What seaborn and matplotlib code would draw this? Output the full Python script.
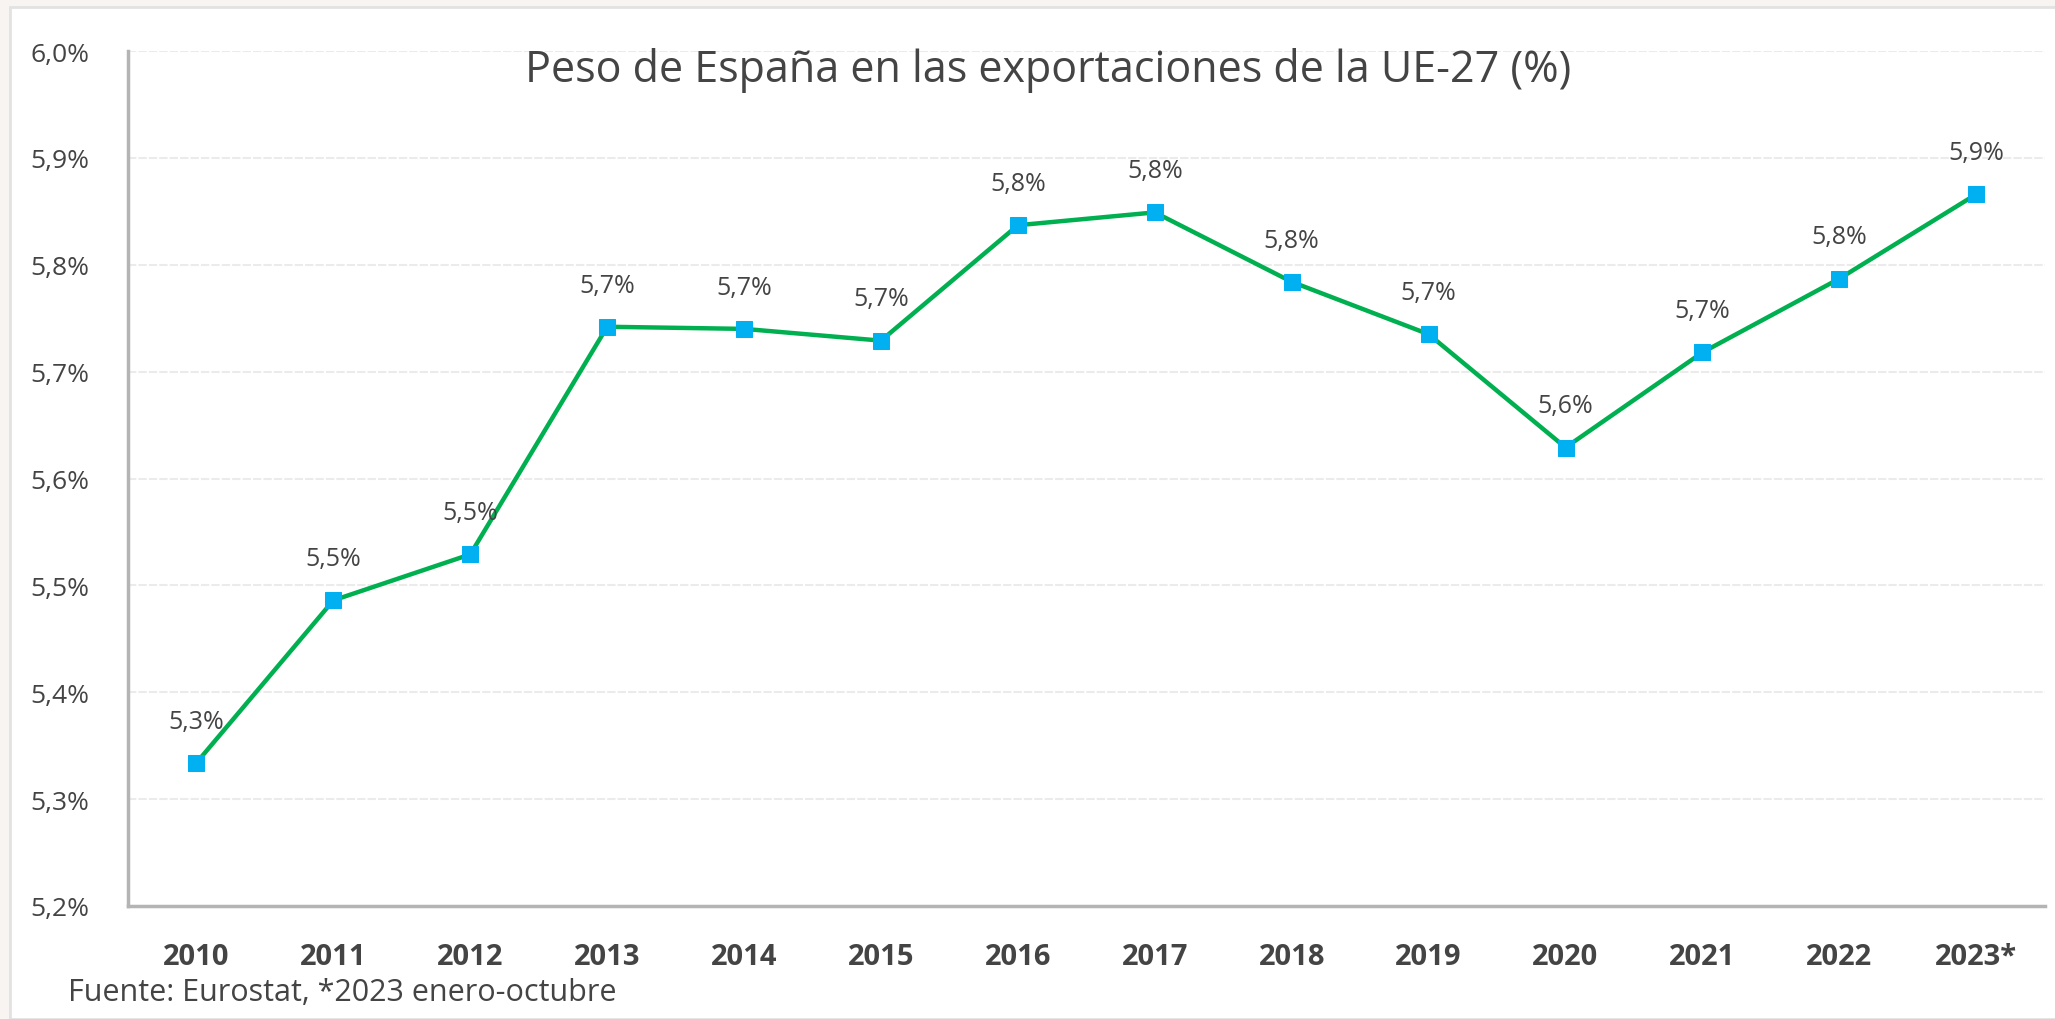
import numpy as np
import pandas as pd
import seaborn as sns
import matplotlib.pyplot as plt
from matplotlib.patches import Rectangle
from matplotlib.ticker import FixedLocator, FuncFormatter

years = ['2010', '2011', '2012', '2013', '2014', '2015', '2016',
         '2017', '2018', '2019', '2020', '2021', '2022', '2023*']
peso = [5.334, 5.486, 5.529, 5.742, 5.740, 5.729, 5.837,
        5.849, 5.784, 5.735, 5.629, 5.718, 5.787, 5.866]
etiquetas = ['5,3%', '5,5%', '5,5%', '5,7%', '5,7%', '5,7%', '5,8%',
             '5,8%', '5,8%', '5,7%', '5,6%', '5,7%', '5,8%', '5,9%']
y_ticks = [5.2, 5.3, 5.4, 5.5, 5.6, 5.7, 5.8, 5.9, 6.0]

df = pd.DataFrame({'Año': years, 'Peso': peso})

sns.set_style('white')
plt.rcParams['font.family'] = ['Open Sans', 'DejaVu Sans']
text_col = '#444444'
axis_col = '#b4b4b4'

fig = plt.figure(figsize=(20.55, 10.2), dpi=100)
fig.patch.set_facecolor('#f7f4f2')
# white panel behind the chart
fig.patches.append(Rectangle((10 / 2055, 0), 1, 1 - 8 / 1020, transform=fig.transFigure,
                             facecolor='white', edgecolor='#e2e2e2', linewidth=2, zorder=-10))
ax = fig.add_axes([0.0623, 0.1108, 0.9327, 0.8382])
ax.set_zorder(1)
ax.set_facecolor('white')

sns.lineplot(data=df, x='Año', y='Peso', sort=False, ax=ax, color='#00b050',
             linewidth=3.2, marker='s', markersize=11.5, markerfacecolor='#00b0f0',
             markeredgecolor='#00b0f0', zorder=3)

for i, (v, lab) in enumerate(zip(peso, etiquetas)):
    ax.annotate(lab, (i, v), xytext=(0, 30), textcoords='offset points',
                ha='center', va='center', fontsize=18, color=text_col)

ax.set_xlim(-0.5, len(years) - 0.5)
ax.set_ylim(5.2, 6.0)
ax.yaxis.set_major_locator(FixedLocator(y_ticks))
ax.yaxis.set_major_formatter(FuncFormatter(lambda v, p: f'{v:.1f}%'.replace('.', ',')))
ax.grid(axis='y', color='#ebebeb', linewidth=1.5, linestyle=(0, (4, 1)))
ax.set_xlabel('')
ax.set_ylabel('')

ax.set_xticks(np.arange(len(years)))
ax.set_xticklabels(years, fontweight='bold')
ax.set_xticks(np.arange(len(years)) + 0.5, minor=True)
ax.tick_params(axis='x', which='major', length=0, pad=26, labelsize=21, labelcolor=text_col)
ax.tick_params(axis='x', which='minor', direction='in', length=7, width=1.5, color=axis_col)
ax.tick_params(axis='y', which='major', direction='in', length=6, width=1.5, color='#d0d0d0',
               pad=28, labelsize=19, labelcolor=text_col)

for side in ['top', 'right']:
    ax.spines[side].set_visible(False)
for side in ['left', 'bottom']:
    ax.spines[side].set_color(axis_col)
    ax.spines[side].set_linewidth(2.5)

ax.text(0.48, 0.978, 'Peso de España en las exportaciones de la UE-27 (%)',
        transform=ax.transAxes, ha='center', va='center', fontsize=31, color=text_col)
fig.text(68 / 2055, 1 - 993 / 1020, 'Fuente: Eurostat, *2023 enero-octubre',
         ha='left', va='center', fontsize=22, color=text_col)

plt.savefig('out.png', dpi=100)
